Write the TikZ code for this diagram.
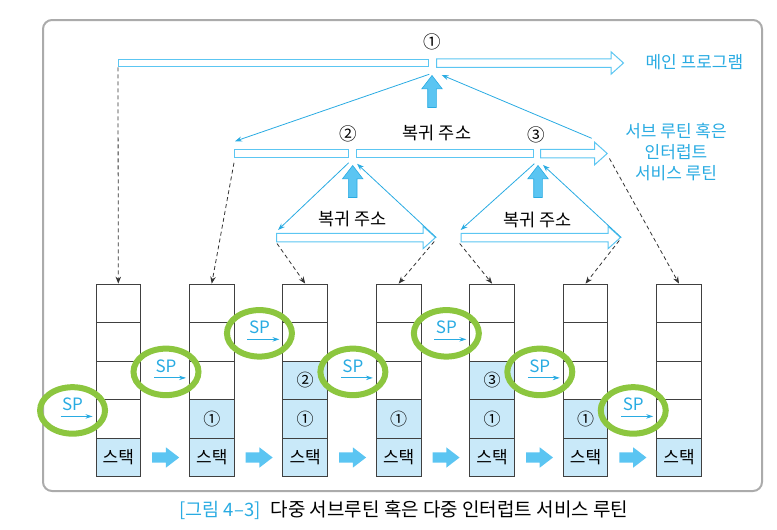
\documentclass[tikz,border=0pt]{standalone}
\usepackage{fontspec}
\setmainfont{Noto Sans CJK KR}
\usetikzlibrary{shapes.arrows,shapes.geometric,arrows.meta}
\definecolor{lineblue}{HTML}{29ABE2}
\definecolor{barblue}{HTML}{5CC6F2}
\definecolor{cellblue}{HTML}{C9E9F9}
\definecolor{blockblue}{HTML}{5BC5F2}
\definecolor{spgreen}{HTML}{8CC63F}
\definecolor{framegray}{HTML}{ABABAB}
\begin{document}
\begin{tikzpicture}[x=1pt,y=-1pt,font=\fontsize{17.5}{17.5}\selectfont,
	cell/.style={rectangle,draw=black!75,line width=0.9pt,minimum width=44.6pt,minimum height=38.5pt,inner sep=0pt,font=\fontsize{17}{17}\selectfont},
	used/.style={cell,fill=cellblue},
	bar/.style={rectangle,draw=barblue,line width=1pt,fill=white,minimum height=7.5pt,inner sep=0pt,anchor=west},
	fatbar/.style={single arrow,draw=barblue,line width=1pt,fill=white,inner xsep=0pt,inner ysep=3.75pt,single arrow head extend=7pt,single arrow tip angle=84,minimum height=#1,anchor=tail},
	pushblock/.style={single arrow,draw=lineblue,fill=blockblue,line width=0.6pt,inner xsep=0pt,inner ysep=4pt,single arrow head extend=6pt,single arrow tip angle=75,minimum height=32pt,rotate=90,anchor=tip},
	moveblock/.style={single arrow,fill=blockblue,inner xsep=0pt,inner ysep=5pt,single arrow head extend=5pt,single arrow tip angle=75,minimum height=27pt,anchor=tail},
	retline/.style={-{Stealth[length=7pt,width=5pt]},lineblue,line width=0.8pt},
	callline/.style={-{Stealth[length=7pt,width=5.5pt]},dash pattern=on 4pt off 3pt,black!80,line width=0.8pt},
	spmark/.style={ellipse,draw=spgreen,line width=6pt,minimum width=65pt,minimum height=46.5pt,inner sep=0pt},
	sparrow/.style={-{Stealth[length=7pt,width=4.5pt]},lineblue,line width=0.8pt},
	bluetext/.style={text=lineblue,font=\fontsize{17}{21}\selectfont}]
	\useasboundingbox (0,0) rectangle (777,530);
	\draw[framegray,line width=2pt,rounded corners=9pt] (43,20) rectangle (762,491);

	% main program
	\node (main1)[bar,minimum width=310.3pt] at (118,63) {};
	\node (main2)[fatbar=187pt] at (436,63) {};
	\node (n1) at (432,42) {①};
	\node (lmain)[bluetext,anchor=west] at (642,62) {메인 프로그램};
	\node (up1)[pushblock] at (432,75) {};

	% subroutine level
	\node (sub1)[bar,minimum width=113.7pt] at (234,153.5) {};
	\node (sub2)[bar,minimum width=177.3pt] at (356,153.5) {};
	\node (sub3)[fatbar=66.7pt] at (540,153.5) {};
	\node (n2) at (348.3,134) {②};
	\node (n3) at (536.7,135) {③};
	\node (ra) at (437,133) {복귀 주소};
	\node (lsub)[bluetext,align=center] at (676,152) {서브 루틴 혹은\\인터럽트\\서비스 루틴};
	\node (up2)[pushblock] at (352.7,165) {};
	\node (up3)[pushblock] at (538,165) {};

	% nested level
	\node (nest1)[fatbar=159pt] at (276,237.5) {};
	\node (nest2)[fatbar=159.3pt] at (460.7,237.5) {};
	\node (rb) at (352.5,219.3) {복귀 주소};
	\node (rc) at (537.5,220) {복귀 주소};

	% stacks
	\foreach \i in {0,...,6}{
		\foreach \r in {0,...,3}
			\node (s\i-\r)[cell] at (118.3+93.45*\i,303.3+38.54*\r) {};
		\node (s\i-4)[used] at (118.3+93.45*\i,303.3+38.54*4) {스택};
	}
	\foreach \i in {1,...,5}
		\node (m\i-3)[used] at (s\i-3) {①};
	\node (m2-2)[used] at (s2-2) {②};
	\node (m4-2)[used] at (s4-2) {③};
	\foreach \i in {0,...,5}
		\node (mv\i)[moveblock] at (152+93.45*\i,457.5) {};

	% stack pointers
	\foreach \i/\r in {0/3,1/2,2/1,3/2,4/1,5/2,6/3}{
		\coordinate (tip\i) at ([xshift=-3pt,yshift=2.5pt]s\i-\r.west);
		\node (ring\i)[spmark] at ([xshift=-20pt,yshift=6pt]tip\i) {};
		\node (sp\i)[bluetext] at ([xshift=-20pt,yshift=12pt]tip\i) {SP};
		\draw[sparrow] ([xshift=-32pt]tip\i) -- (tip\i);
	}

	% returns
	\coordinate (back1) at (591.7,138.3);
	\draw[retline] ([yshift=-7pt]main1.south east) -- ([xshift=1pt,yshift=8pt]sub1.north west);
	\draw[retline] (back1) -- ([xshift=5.7pt,yshift=-12pt]main2.tail);
	\draw[retline] ([yshift=-5pt]sub1.south east) -- ([xshift=2pt,yshift=7.5pt]nest1.tail);
	\draw[retline] (nest1.tip) -- ([xshift=1pt,yshift=-6pt]sub2.south west);
	\draw[retline] ([yshift=-6pt]sub2.south east) -- ([xshift=0pt,yshift=7.5pt]nest2.tail);
	\draw[retline] (nest2.tip) -- ([xshift=3pt,yshift=-11.5pt]sub3.tail);

	% calls
	\draw[callline] (main1.south west) -- (s0-0.north);
	\draw[callline] ([yshift=-5pt]sub1.south west) -- (s1-0.north);
	\draw[callline] ([xshift=1.5pt,yshift=-5pt]sub3.tip) -- (s6-0.north);
	\draw[callline] ([xshift=1pt,yshift=-6pt]nest1.tail) -- (s2-0.north);
	\draw[callline] ([xshift=-2pt,yshift=-4pt]nest1.tip) -- (s3-0.north);
	\draw[callline] ([xshift=-1pt,yshift=-6pt]nest2.tail) -- (s4-0.north);
	\draw[callline] ([xshift=-2pt,yshift=-3pt]nest2.tip) -- (s5-0.north);

	\node (cap)[anchor=west,font=\fontsize{18.5}{18.5}\selectfont] at (176,510) {\textcolor{lineblue}{[그림 4–3]}\hspace{10pt}\fontsize{19}{19}\selectfont 다중 서브루틴 혹은 다중 인터럽트 서비스 루틴};
\end{tikzpicture}
\end{document}
